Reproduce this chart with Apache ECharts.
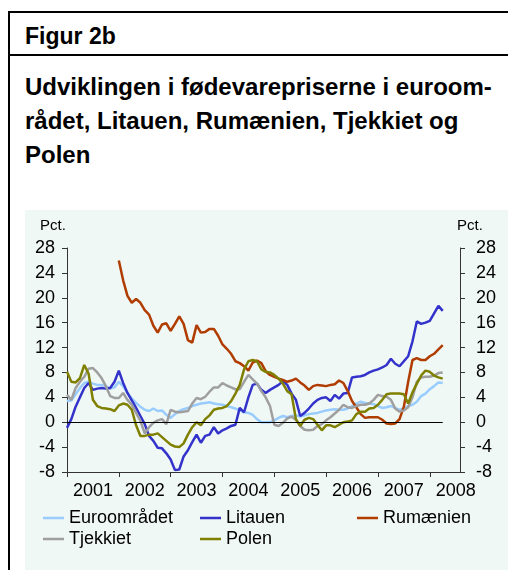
<!DOCTYPE html>
<html>
<head>
<meta charset="utf-8">
<script src="https://cdn.jsdelivr.net/npm/echarts@6/dist/echarts.min.js"></script>
<style>
html, body { margin: 0; padding: 0; background: #fff; }
body { width: 508px; height: 570px; position: relative; overflow: hidden; font-family: "Liberation Sans", Arial, sans-serif; color: #000; }
.rule { position: absolute; background: #000; }
#head { position: absolute; left: 25px; top: 25px; font-weight: bold; font-size: 23px; line-height: 23px; white-space: nowrap; }
#title { position: absolute; left: 25px; top: 70px; font-weight: bold; font-size: 24px; line-height: 34px; white-space: nowrap; }
#chart { position: absolute; left: 25px; top: 210px; width: 483px; height: 360px; background: #f0f8f5; }
</style>
</head>
<body>
<div class="rule" style="left:8px;top:11px;width:500px;height:2px"></div>
<div class="rule" style="left:8px;top:54px;width:500px;height:2px"></div>
<div class="rule" style="left:8px;top:11px;width:2px;height:559px"></div>
<div id="head">Figur 2b</div>
<div id="title">Udviklingen i fødevarepriserne i euroom-<br>rådet, Litauen, Rumænien, Tjekkiet og<br>Polen</div>
<div id="chart"></div>
<script>
// månedlige observationer jan. 2001 - apr. 2008, akse til aug. 2008
const years = [2001, 2002, 2003, 2004, 2005, 2006, 2007, 2008]
const yTicks = [-8, 28, 4]   // min, max, interval

const euro = [3.4, 3.5, 4.5, 5.5, 6.3, 6.5, 6.2, 6.0, 6.0, 5.8, 5.4, 5.6,
  6.5, 5.8, 4.7, 3.8, 3.1, 2.5, 2.0, 1.8, 2.2, 1.8, 1.9, 1.2,
  0.7, 1.3, 1.8, 2.1, 2.3, 2.6, 2.8, 3.0, 3.1, 3.2, 3.0, 2.9,
  2.8, 2.6, 2.4, 2.2, 1.9, 1.6, 1.5, 1.2, 0.5, 0.0, 0.0, 0.0,
  0.3, 0.7, 1.0, 0.8, 1.0, 1.1, 0.9, 1.1, 1.3, 1.4, 1.5, 1.7,
  1.9, 2.0, 2.1, 2.0, 2.0, 2.2, 2.6, 3.0, 3.3, 3.1, 3.0, 2.9,
  2.6, 2.3, 2.4, 2.6, 2.3, 2.0, 2.2, 2.6, 2.8, 3.3, 4.2, 4.6,
  5.3, 5.8, 6.4, 6.3]
const litauen = [-0.9, 0.5, 2.5, 4.0, 5.5, 6.3, 5.2, 5.4, 5.5, 5.4, 5.5, 6.5,
  8.3, 6.3, 4.7, 3.5, 2.3, 1.0, -0.3, -2.2, -3.0, -4.1, -4.2, -5.0,
  -6.0, -7.7, -7.6, -5.5, -4.5, -3.2, -2.0, -3.3, -2.2, -2.0, -0.8, -1.8,
  -1.3, -1.0, -0.6, -0.4, 2.3, 1.6, 4.0, 6.0, 6.2, 5.2, 4.7, 5.2,
  5.6, 6.0, 6.6, 6.0, 4.6, 3.6, 1.0, 1.5, 2.2, 3.0, 3.6, 3.9,
  4.0, 3.4, 4.4, 3.8, 4.6, 4.7, 7.2, 7.3, 7.4, 7.6, 8.0, 8.3,
  8.5, 8.8, 9.2, 10.2, 9.4, 9.0, 9.8, 10.6, 13.0, 16.2, 15.8, 16.0,
  16.3, 17.5, 18.7, 17.9]
const rumaenien = [null, null, null, null, null, null, null, null, null, null, null, null,
  26.0, 22.8, 20.3, 19.2, 19.8, 19.2, 18.0, 17.3, 15.5, 14.4, 15.7, 15.9,
  14.7, 15.8, 17.0, 15.8, 13.2, 12.8, 15.6, 14.4, 14.5, 15.0, 15.0, 13.9,
  12.5, 11.8, 11.0, 9.8, 9.5, 9.0, 8.3, 9.6, 9.9, 9.5, 8.2, 7.6,
  7.3, 7.0, 6.8, 6.5, 6.7, 7.0, 6.4, 5.9, 5.2, 5.8, 6.0, 5.9,
  5.8, 6.0, 6.1, 6.7, 6.3, 5.0, 3.4, 2.4, 1.3, 0.7, 0.8, 0.8,
  0.8, 0.4, -0.2, -0.3, -0.2, 0.5, 2.5, 6.5, 10.0, 10.3, 10.0, 10.0,
  10.6, 11.0, 11.7, 12.4]
const tjekkiet = [4.4, 3.6, 5.5, 6.5, 7.3, 8.6, 8.7, 8.0, 7.1, 5.8, 4.2, 3.9,
  3.9, 4.7, 3.6, 2.8, 1.5, 0.2, -1.8, -0.8, -0.1, 0.3, 0.5, -0.3,
  2.0, 1.7, 1.6, 1.7, 1.8, 3.0, 3.9, 3.7, 4.1, 4.9, 5.6, 5.6,
  6.3, 5.9, 5.6, 5.3, 5.3, 6.5, 7.6, 6.9, 6.2, 5.0, 4.0, 2.6,
  -0.4, -0.6, -0.1, 0.6, 0.9, 0.4, -0.6, -1.2, -1.3, -1.2, -0.6, -0.3,
  0.3, 0.8, 1.4, 2.0, 2.8, 2.4, 2.3, 2.6, 2.8, 2.8, 3.0, 3.6,
  4.4, 4.2, 4.1, 3.6, 2.2, 1.7, 1.9, 2.4, 4.0, 6.5, 7.2, 7.3,
  7.3, 7.5, 7.9, 8.0]
const polen = [8.1, 6.5, 6.4, 7.1, 9.2, 7.8, 3.6, 2.6, 2.3, 2.2, 2.1, 1.8,
  2.7, 3.0, 2.8, 2.0, -0.5, -2.2, -2.2, -2.0, -2.0, -1.8, -2.4, -3.0,
  -3.6, -3.9, -4.0, -3.4, -2.0, -0.8, 0.0, -0.5, 0.5, 1.1, 2.0, 2.2,
  2.3, 2.6, 3.4, 4.6, 6.0, 8.5, 9.8, 10.0, 9.8, 8.5, 8.1, 8.0,
  7.6, 7.0, 6.2, 5.0, 4.5, 0.5, -0.6, 0.4, 0.7, 0.5, -0.4, -1.3,
  -0.5, -0.5, -0.8, -0.4, 0.0, 0.1, 0.3, 1.3, 1.7, 1.7, 2.2, 2.3,
  2.8, 3.6, 4.5, 4.6, 4.6, 4.6, 4.5, 3.0, 4.8, 6.2, 7.5, 8.3,
  8.1, 7.5, 7.2, 7.0]

// kategorier: en pr. måned, 2001-01 .. 2008-08
let months = []
for (let y of years) {
  for (let m = 1; m <= 12; m++) {
    if (y === 2008 && m > 8) break
    months.push(y + '-' + (m < 10 ? '0' + m : m))
  }
}

let font = 'Liberation Sans'
let myChart = echarts.init(document.getElementById('chart'))

function yAxis(pos, margin) {
  return {
    type: 'value',
    position: pos,
    min: yTicks[0],
    max: yTicks[1],
    interval: yTicks[2],
    axisLine: {show: true, lineStyle: {color: '#333', width: 1}},
    axisTick: {show: true, length: 5, lineStyle: {color: '#333'}},
    splitLine: {show: false},
    axisLabel: {margin: margin, color: '#000', fontSize: 18, fontFamily: font}
  }
}

function line(name, data, color) {
  return {
    name: name,
    type: 'line',
    data: data,
    symbol: 'none',
    connectNulls: false,
    lineStyle: {color: color, width: 2.5},
    itemStyle: {color: color}
  }
}

// en legend pr. post, så kolonnerne står som i originalen
function legend(name, left, top) {
  return {
    data: [name],
    left: left,
    top: top,
    padding: 0,
    icon: 'rect',
    itemWidth: 21,
    itemHeight: 2.5,
    textStyle: {fontSize: 18, color: '#000', fontFamily: font}
  }
}

let euroSeries = line('Euroområdet', euro, '#99ccff')
euroSeries.markLine = {
  silent: true,
  symbol: 'none',
  label: {show: false},
  lineStyle: {color: '#000', width: 1, type: 'solid'},
  data: [[{coord: [months[0], 0]}, {coord: [months[euro.length - 1], 0]}]]
}

let option = {
  animation: false,
  backgroundColor: '#f0f8f5',
  textStyle: {fontFamily: font},
  grid: {left: 42, right: 48, top: 38, bottom: 98},
  graphic: [
    {type: 'text', left: 15, top: 8, style: {text: 'Pct.', fontSize: 15, fontFamily: font, fill: '#000'}},
    {type: 'text', left: 432, top: 8, style: {text: 'Pct.', fontSize: 15, fontFamily: font, fill: '#000'}}
  ],
  legend: [
    legend('Euroområdet', 18, 299),
    legend('Litauen', 175, 299),
    legend('Rumænien', 332, 299),
    legend('Tjekkiet', 18, 320),
    legend('Polen', 175, 320)
  ],
  xAxis: {
    type: 'category',
    data: months,
    boundaryGap: false,
    axisLine: {show: true, onZero: false, lineStyle: {color: '#333', width: 1}},
    axisTick: {
      show: true,
      length: 5,
      lineStyle: {color: '#333'},
      interval: function (idx) { return idx % 12 === 0 }
    },
    axisLabel: {
      interval: function (idx) { return idx % 12 === 6 },
      formatter: function (v) { return v.slice(0, 4) },
      margin: 10,
      color: '#000',
      fontSize: 18,
      fontFamily: font
    },
    splitLine: {show: false}
  },
  yAxis: [yAxis('left', 12), yAxis('right', 16)],
  series: [
    euroSeries,
    line('Litauen', litauen, '#3333cc'),
    line('Rumænien', rumaenien, '#b03c00'),
    line('Tjekkiet', tjekkiet, '#9f9f9f'),
    line('Polen', polen, '#808000')
  ]
}
myChart.setOption(option)
</script>
</body>
</html>
